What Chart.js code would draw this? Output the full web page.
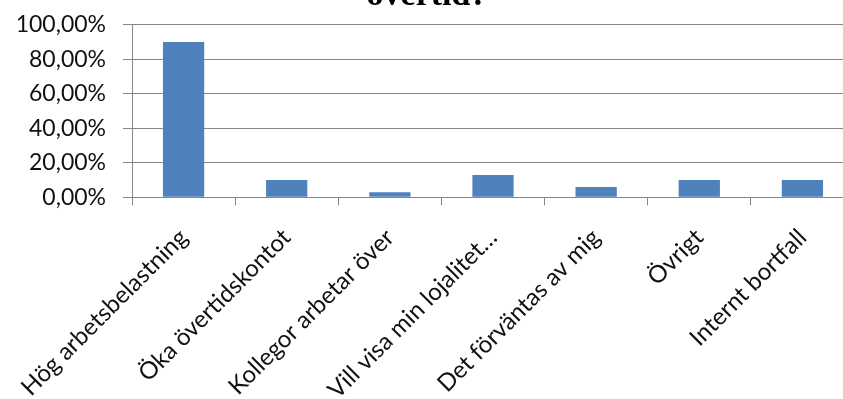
<!DOCTYPE html>
<html>
<head>
<meta charset="utf-8">
<title>övertid?</title>
<script src="https://cdn.jsdelivr.net/npm/chart.js@4.4.1/dist/chart.umd.min.js"></script>
<style>
  html, body { margin: 0; padding: 0; background: #fff; width: 843px; height: 399px; overflow: hidden; }
  #wrap { position: absolute; left: 0; top: -24px; width: 870px; height: 460px; }
</style>
</head>
<body>
<div id="wrap"><canvas id="chart"></canvas></div>
<script>
// Reasons given for working overtime (share of respondents, %)
const categories = [
  'Hög arbetsbelastning',
  'Öka övertidskontot',
  'Kollegor arbetar över',
  'Vill visa min lojalitet…',
  'Det förväntas av mig',
  'Övrigt',
  'Internt bortfall'
];
const shares = [90, 10, 3, 13, 6, 10, 10];
const yTickValues = [0, 20, 40, 60, 80, 100];
const titleText = 'övertid?';

const axisGrey = '#868686';
const textColor = '#111';

function pct(v) {
  return v.toFixed(2).replace('.', ',') + '%';
}

new Chart(document.getElementById('chart'), {
  type: 'bar',
  data: {
    labels: categories,
    datasets: [{
      data: shares,
      backgroundColor: '#4F81BD',
      borderWidth: 0,
      categoryPercentage: 1.0,
      barPercentage: 0.4
    }]
  },
  options: {
    responsive: true,
    maintainAspectRatio: false,
    animation: false,
    devicePixelRatio: 1,
    layout: { padding: { left: 0, right: 16, top: 0, bottom: 0 } },
    plugins: {
      legend: { display: false },
      tooltip: { enabled: false },
      title: {
        display: true,
        text: titleText,
        color: '#000',
        font: { family: '"Liberation Serif", "Times New Roman", serif', size: 34, weight: 'bold' },
        padding: { top: 0, bottom: 8 }
      }
    },
    scales: {
      x: {
        grid: {
          drawOnChartArea: false,
          drawTicks: true,
          tickLength: 8,
          offset: true,
          color: axisGrey
        },
        border: { display: true, color: axisGrey },
        ticks: {
          color: textColor,
          font: { family: 'Lato, "Open Sans", sans-serif', size: 24 },
          minRotation: 45,
          maxRotation: 45,
          autoSkip: false,
          padding: 18
        },
        afterFit(scale) {
          scale.height = 238.7;
          scale.paddingLeft = 0;
          scale.paddingRight = 0;
        }
      },
      y: {
        min: 0,
        max: 100,
        afterBuildTicks(scale) {
          scale.ticks = yTickValues.map(v => ({ value: v }));
        },
        grid: {
          color: axisGrey,
          drawTicks: true,
          tickLength: 9
        },
        border: { display: true, color: axisGrey },
        ticks: {
          color: textColor,
          font: { family: 'Lato, "Open Sans", sans-serif', size: 23 },
          padding: 17,
          callback: v => pct(v)
        },
        afterFit(scale) {
          scale.width = 132;
          scale.paddingTop = 0;
          scale.paddingBottom = 0;
        }
      }
    }
  }
});
</script>
</body>
</html>
